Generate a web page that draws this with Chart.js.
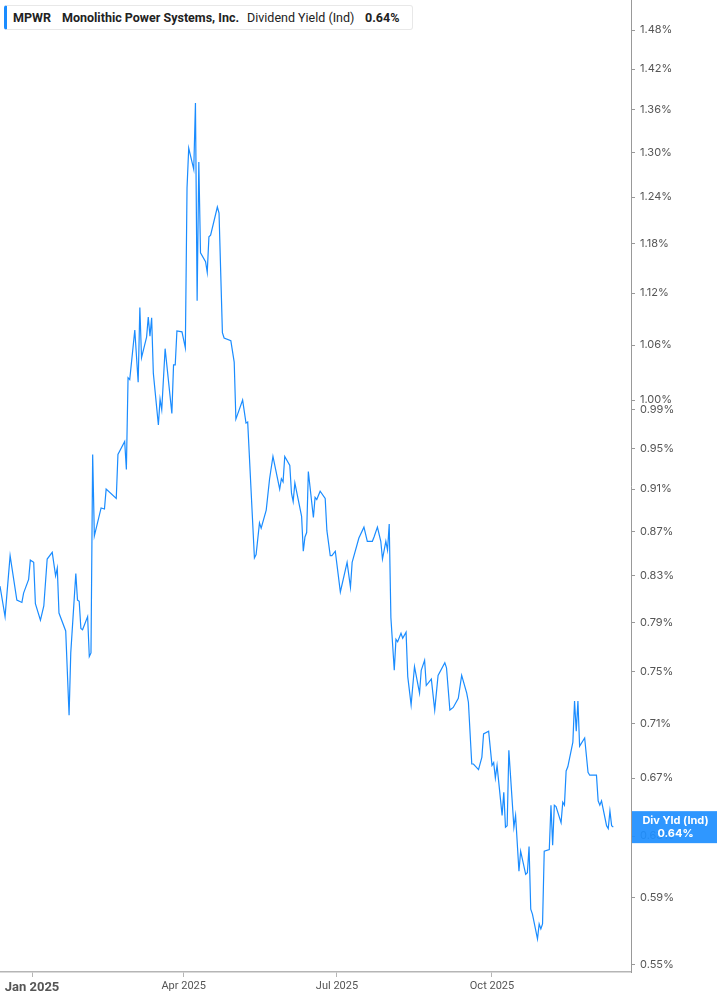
<!DOCTYPE html>
<html>
<head>
<meta charset="utf-8">
<script src="https://cdn.jsdelivr.net/npm/chart.js@4"></script>
<style>
  body { margin: 0; background: #fff; }
  #wrap { position: relative; width: 717px; height: 1005px; }
  #head {
    position: absolute; left: 4px; top: 5px; width: 409px; height: 25px;
    background: #fff; border: 1px solid #e8e8e8; border-left: 3px solid #1a8cff;
    border-radius: 3px; font-family: Roboto, sans-serif; font-size: 12.5px;
    color: #222; box-sizing: border-box;
  }
  #head span { position: absolute; top: 4px; white-space: nowrap; }
</style>
</head>
<body>
<div id="wrap">
  <canvas id="myChart"></canvas>
  <div id="head">
    <span style="left:6px;font-weight:700">MPWR</span>
    <span style="left:55px;font-weight:700">Monolithic Power Systems, Inc.</span>
    <span style="left:240px">Dividend Yield (Ind)</span>
    <span style="left:358px;font-weight:700">0.64%</span>
  </div>
</div>
<script>
// dividend yield (%) by date
var dates = [
  '2024-12-13','2024-12-16','2024-12-19','2024-12-23','2024-12-26','2024-12-27','2024-12-30','2024-12-31',
  '2025-01-02','2025-01-03','2025-01-06','2025-01-08','2025-01-10','2025-01-13','2025-01-15','2025-01-16',
  '2025-01-17','2025-01-21','2025-01-23','2025-01-24','2025-01-27','2025-01-28','2025-01-29','2025-01-30',
  '2025-01-31','2025-02-03','2025-02-04','2025-02-05','2025-02-06','2025-02-07','2025-02-11','2025-02-13',
  '2025-02-14','2025-02-20','2025-02-21','2025-02-25','2025-02-26','2025-02-27','2025-02-28','2025-03-03',
  '2025-03-05','2025-03-06','2025-03-07','2025-03-10','2025-03-11','2025-03-12','2025-03-13','2025-03-14',
  '2025-03-17','2025-03-18','2025-03-19','2025-03-21','2025-03-25','2025-03-26','2025-03-27','2025-03-28',
  '2025-03-31','2025-04-02','2025-04-03','2025-04-04','2025-04-07','2025-04-08','2025-04-09','2025-04-10',
  '2025-04-11','2025-04-14','2025-04-15','2025-04-16','2025-04-17','2025-04-21','2025-04-22','2025-04-24',
  '2025-04-25','2025-04-29','2025-05-01','2025-05-02','2025-05-06','2025-05-08','2025-05-09','2025-05-13',
  '2025-05-14','2025-05-16','2025-05-17','2025-05-20','2025-05-22','2025-05-24','2025-05-28','2025-05-29',
  '2025-05-30','2025-05-31','2025-06-03','2025-06-04','2025-06-05','2025-06-06','2025-06-10','2025-06-11',
  '2025-06-12','2025-06-13','2025-06-14','2025-06-17','2025-06-18','2025-06-19','2025-06-21','2025-06-24',
  '2025-06-25','2025-06-27','2025-06-28','2025-06-30','2025-07-03','2025-07-07','2025-07-09','2025-07-10',
  '2025-07-14','2025-07-17','2025-07-19','2025-07-22','2025-07-23','2025-07-25','2025-07-27','2025-07-28',
  '2025-07-30','2025-07-31','2025-08-01','2025-08-02','2025-08-04','2025-08-05','2025-08-06','2025-08-08',
  '2025-08-09','2025-08-11','2025-08-12','2025-08-14','2025-08-16','2025-08-19','2025-08-20','2025-08-22',
  '2025-08-23','2025-08-26','2025-08-28','2025-08-30','2025-09-03','2025-09-04','2025-09-06','2025-09-08',
  '2025-09-11','2025-09-13','2025-09-16','2025-09-17','2025-09-19','2025-09-20','2025-09-23','2025-09-25',
  '2025-09-26','2025-09-29','2025-10-01','2025-10-02','2025-10-03','2025-10-04','2025-10-07','2025-10-08',
  '2025-10-09','2025-10-10','2025-10-11','2025-10-14','2025-10-15','2025-10-17','2025-10-18','2025-10-21',
  '2025-10-22','2025-10-23','2025-10-24','2025-10-25','2025-10-28','2025-10-29','2025-10-30','2025-10-31',
  '2025-11-01','2025-11-04','2025-11-05','2025-11-06','2025-11-07','2025-11-08','2025-11-11','2025-11-12',
  '2025-11-13','2025-11-14','2025-11-15','2025-11-18','2025-11-19','2025-11-20','2025-11-21','2025-11-22',
  '2025-11-25','2025-11-27','2025-11-28','2025-12-02','2025-12-03','2025-12-04','2025-12-05','2025-12-08',
  '2025-12-09','2025-12-10','2025-12-11','2025-12-12'
];
var yields = [
  0.821,0.795,0.848,0.809,0.807,0.815,0.827,0.844,
  0.842,0.806,0.792,0.804,0.845,0.851,0.830,0.837,
  0.798,0.783,0.716,0.765,0.832,0.809,0.808,0.785,
  0.784,0.795,0.762,0.765,0.944,0.866,0.892,0.891,
  0.910,0.901,0.944,0.957,0.929,1.024,1.022,1.077,
  1.019,1.103,1.046,1.069,1.092,1.070,1.091,1.029,
  0.974,1.001,0.990,1.056,0.986,1.038,1.038,1.076,
  1.075,1.057,1.252,1.306,1.277,1.370,1.111,1.287,
  1.169,1.158,1.145,1.189,1.191,1.227,1.219,1.074,
  1.068,1.065,1.041,0.980,1.000,0.976,0.977,0.846,
  0.849,0.878,0.873,0.890,0.920,0.942,0.910,0.920,
  0.917,0.942,0.933,0.906,0.898,0.916,0.884,0.852,
  0.865,0.869,0.927,0.883,0.902,0.900,0.908,0.901,
  0.871,0.848,0.848,0.852,0.816,0.842,0.820,0.842,
  0.864,0.874,0.861,0.861,0.865,0.874,0.861,0.845,
  0.861,0.853,0.877,0.794,0.751,0.776,0.774,0.781,
  0.777,0.782,0.746,0.724,0.754,0.733,0.751,0.759,
  0.739,0.744,0.720,0.747,0.757,0.753,0.720,0.722,
  0.729,0.747,0.733,0.726,0.680,0.680,0.676,0.685,
  0.702,0.704,0.679,0.681,0.670,0.679,0.644,0.660,
  0.636,0.637,0.690,0.636,0.644,0.607,0.620,0.605,
  0.606,0.623,0.583,0.580,0.565,0.574,0.571,0.574,
  0.620,0.621,0.651,0.624,0.651,0.650,0.639,0.653,
  0.651,0.675,0.678,0.696,0.727,0.704,0.727,0.693,
  0.699,0.674,0.672,0.672,0.654,0.651,0.654,0.637,
  0.635,0.647,0.637,0.636
];
var tickDates = ['2025-01-01','2025-04-01','2025-07-01','2025-10-01'];
var tickLabels = ['Jan 2025','Apr 2025','Jul 2025','Oct 2025'];
var yTicks = [1.48,1.42,1.36,1.30,1.24,1.18,1.12,1.06,1.00,0.99,0.95,0.91,0.87,0.83,0.79,0.75,0.71,0.67,0.63,0.59,0.55];
var badgeTitle = 'Div Yld (Ind)';

var lineColor = '#1a8cff';
var t0 = Date.UTC(2025, 0, 1);
function dayOf(s) { return (Date.parse(s) - t0) / 86400000; }

var points = dates.map(function (d, i) { return { x: dayOf(d), y: yields[i] }; });
var tickDays = tickDates.map(dayOf);

// last-value tag on the right axis
var badge = {
  id: 'badge',
  afterDraw: function (chart) {
    var c = chart.ctx, ys = chart.scales.y, area = chart.chartArea;
    var last = yields[yields.length - 1];
    var y = ys.getPixelForValue(last);
    var x0 = area.right + 1;
    c.save();
    c.globalAlpha = 0.93;
    c.fillStyle = '#1f8fff';
    c.fillRect(x0, y - 16, chart.width - x0, 32);
    c.globalAlpha = 1;
    c.fillStyle = '#fff';
    c.font = 'bold 11px Inter, Roboto, sans-serif';
    c.textAlign = 'center';
    c.textBaseline = 'middle';
    var cx = (x0 + chart.width) / 2 + 1;
    c.fillText(badgeTitle, cx, y - 6);
    c.fillText(last.toFixed(2) + '%', cx, y + 7);
    c.restore();
  }
};

var ctx = document.getElementById('myChart').getContext('2d');
var myChart = new Chart(ctx, {
  type: 'line',
  data: {
    datasets: [{
      data: points,
      borderColor: lineColor,
      borderWidth: 1.2,
      pointRadius: 0,
      tension: 0,
      fill: false
    }]
  },
  options: {
    responsive: true,
    maintainAspectRatio: false,
    animation: false,
    layout: { padding: 0 },
    plugins: { legend: { display: false }, tooltip: { enabled: false } },
    scales: {
      x: {
        type: 'linear',
        min: -19,
        max: 355.5,
        afterBuildTicks: function (s) { s.ticks = tickDays.map(function (v) { return { value: v }; }); },
        afterFit: function (s) { s.height = 33; s.paddingLeft = 0; s.paddingRight = 0; },
        ticks: {
          autoSkip: false,
          maxRotation: 0,
          padding: 3,
          color: '#555',
          callback: function (v, i) { return tickLabels[i]; },
          font: function (c) {
            return c.index === 0
              ? { family: 'Roboto', size: 13, weight: 'bold' }
              : { family: 'Roboto', size: 11 };
          }
        },
        grid: { drawOnChartArea: false, tickLength: 5, color: '#b5b5b5' },
        border: { color: '#b5b5b5', width: 1.5 }
      },
      y: {
        type: 'logarithmic',
        position: 'right',
        min: 0.5455,
        max: 1.528,
        afterBuildTicks: function (s) { s.ticks = yTicks.map(function (v) { return { value: v }; }); },
        afterFit: function (s) { s.width = 86; s.paddingTop = 0; s.paddingBottom = 0; },
        ticks: {
          color: '#555',
          padding: 5,
          font: { family: 'Inter', size: 11 },
          callback: function (v) { return Number(v).toFixed(2) + '%'; }
        },
        grid: { drawOnChartArea: false, tickLength: 4, color: '#999' },
        border: { color: '#999', width: 1 }
      }
    }
  },
  plugins: [badge]
});
</script>
</body>
</html>
